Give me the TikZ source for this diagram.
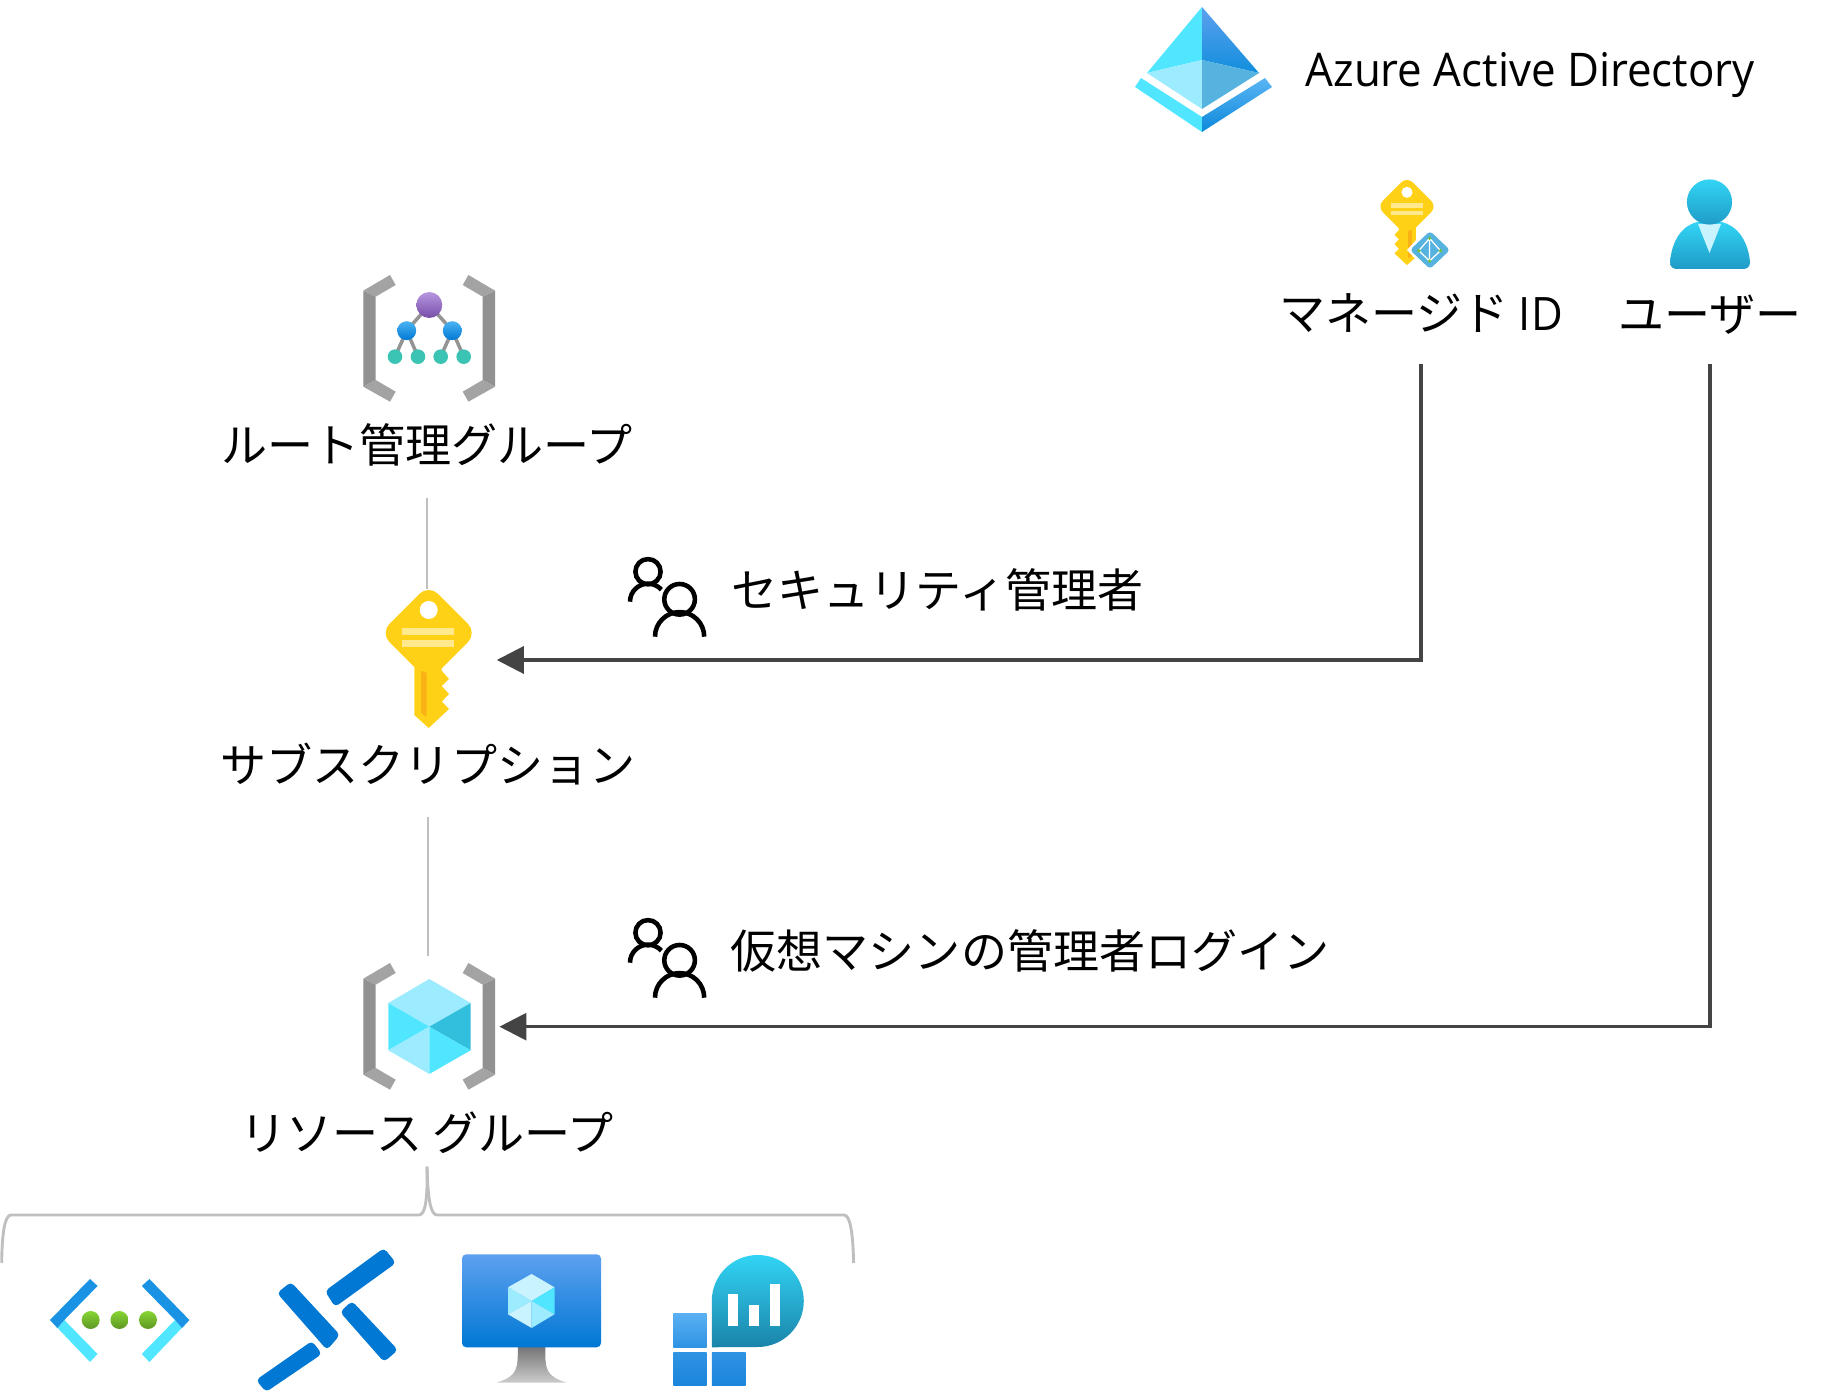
\documentclass[tikz,border=0pt]{standalone}
\usepackage{fontspec}
\setmainfont{Noto Sans CJK JP}
\newfontfamily\latinfont[FakeStretch=0.945]{Open Sans}
\usetikzlibrary{arrows.meta}

\definecolor{keyyellow}{HTML}{FFD116}
\definecolor{keybar}{HTML}{FFE98C}
\definecolor{keyedge}{HTML}{F9B116}
\definecolor{cubelight}{HTML}{9CEBFF}
\definecolor{cubemid}{HTML}{50E6FF}
\definecolor{cubedark}{HTML}{32BEDD}
\definecolor{azuretop}{HTML}{5EA0EF}
\definecolor{azurelow}{HTML}{0078D4}
\definecolor{usertop}{HTML}{32D4F5}
\definecolor{userlow}{HTML}{1F9BC7}
\definecolor{squarelight}{HTML}{5AB0F2}
\definecolor{squaremid}{HTML}{2F93E3}
\definecolor{squarelow}{HTML}{1A85DB}
\definecolor{paleblue}{HTML}{56B2DE}
\definecolor{darkline}{HTML}{444444}
\definecolor{greyline}{HTML}{BFBFBF}

\tikzset{
	labeltext/.style={inner sep=0pt,font=\fontsize{13.1pt}{15pt}\selectfont,text height=0.355cm,text depth=0pt},
	hook/.style={draw=greyline,line width=0.82pt},
	assign/.style={draw=darkline,line width=0.88pt,-{Triangle[length=0.27cm,width=0.27cm,color=darkline]}},
	person/.style={draw=black,line width=1.3pt}
}

% gray brackets of a group icon, #1 is the shift in y
\newcommand{\bracketicon}[1]{
	\foreach \s in {-1,1} {
		\begin{scope}[shift={(429.2,#1)},xscale=\s]
			\fill[fill=black!43] (-65.9,-47.6) -- (-53.5,-41.6) -- (-53.5,41.7) -- (-65.9,48.4) -- cycle;
			\fill[fill=black!36] (-39.2,-63.3) -- (-65.9,-47.6) -- (-53.5,-41.6) -- (-33.5,-53.3) -- cycle;
			\fill[fill=black!36] (-39.2,63.4) -- (-65.9,48.4) -- (-53.5,41.7) -- (-33.5,53.4) -- cycle;
		\end{scope}
	}
}

% key icon, top of the bow at #1
\newcommand{\keyicon}[4]{
	\begin{scope}[shift={(#1)},xscale=#2,yscale=#3]
		\fill[keyyellow,rounded corners=#4] (-48.4,43) -- (0,-5.4) -- (48.4,43) -- (0,91.4) -- cycle;
		\fill[keyyellow] (-14.4,70) -- (-14.4,125) -- (0,138) -- (20.3,119) -- (13,111.7) -- (20.3,104) -- (13,96) -- (20.3,89) -- (13,80.7) -- (13,70) -- cycle;
		\fill[keyedge] (-7.7,80.7) -- (-2,83) -- (-2,127) -- (-7.7,122.7) -- cycle;
		\fill[white] (0,20) circle (9);
		\fill[keybar] (-26.7,37.7) rectangle (25.3,45);
		\fill[keybar] (-26.7,50) rectangle (25.3,57.3);
	\end{scope}
}

% two people outline, #1 is the shift in y
\newcommand{\peopleicon}[1]{
	\begin{scope}[shift={(0,#1)}]
		\draw[person] (648,571.7) circle (12.6);
		\draw[person] (630,601.7) arc[start angle=180,end angle=318,radius=18];
		\draw[person] (679.6,599.3) circle (15.3);
		\draw[person] (655,636.7) arc[start angle=180,end angle=360,radius=24.6];
	\end{scope}
}

\begin{document}
\begin{tikzpicture}[x=0.01cm,y=-0.01cm]
	\useasboundingbox (0,0) rectangle (1835,1392);

	% Azure AD
	\fill[cubemid] (1202,7) -- (1147,73) -- (1202,60) -- cycle;
	\shade[top color=azuretop,bottom color=azurelow!80!cubemid] (1202,7) -- (1259,73) -- (1202,60) -- cycle;
	\fill[cubelight] (1147,73) -- (1202,60) -- (1202,109) -- cycle;
	\fill[paleblue] (1259,73) -- (1202,60) -- (1202,109) -- cycle;
	\fill[cubemid] (1141,78) -- (1135,87) -- (1202,132) -- (1202,117) -- cycle;
	\shade[top color=azuretop!70!cubemid,bottom color=azurelow!85!cubemid] (1265,78) -- (1272,87) -- (1202,132) -- (1202,117) -- cycle;
	\node[labeltext,anchor=west,font=\latinfont\fontsize{13.2pt}{15pt}\selectfont] (adlabel) at (1305,69) {Azure Active Directory};

	% managed identity
	\keyicon{1407,180}{-0.617}{0.617}{2.3pt}
	\fill[white] (1407,250) -- (1430,225) -- (1453,250) -- (1430,275) -- cycle;
	\fill[paleblue,rounded corners=1pt] (1410,250) -- (1430,231) -- (1450,250) -- (1430,269) -- cycle;
	\draw[white,line width=0.35pt] (1429.6,238.3) -- (1418.8,250.7) -- (1429.6,261) -- (1440.4,250.7) -- cycle (1429.6,238.3) -- (1429.6,261);
	\foreach \p in {{1429.6,238.3},{1418.8,250.7},{1429.6,261},{1440.4,250.7}}
		\fill[fill=green!60!yellow!70!black!80] (\p) circle (1.8);
	\node[labeltext,minimum height=1.01cm] (mgdlabel) at (1421,312.5) {マネージド {\latinfont ID}};

	% user
	\shade[top color=usertop,bottom color=userlow] (1670,262) .. controls (1672,240) and (1682,226) .. (1697,222) -- (1722,222) .. controls (1737,226) and (1748,240) .. (1750,262) .. controls (1750,267) and (1747,269) .. (1743,269) -- (1677,269) .. controls (1673,269) and (1670,267) .. (1670,262) -- cycle;
	\fill[fill=cubelight!55!white] (1698,224) -- (1721,224) -- (1709.5,253) -- cycle;
	\shade[top color=usertop,bottom color=userlow] (1709.5,202) circle (22.6);
	\node[labeltext,minimum height=0.98cm] (userlabel) at (1710,314) {ユーザー};

	% root management group
	\bracketicon{338.3}
	\draw[black!42,line width=1pt] (429.3,305) -- (406.7,330.7) -- (395,356.7) (406.7,330.7) -- (418,356.7);
	\draw[black!42,line width=1pt] (429.3,305) -- (452.3,330.7) -- (440.7,356.7) (452.3,330.7) -- (463.7,356.7);
	\shade[top color={rgb,255:red,184;green,150;blue,224},bottom color={rgb,255:red,118;green,78;blue,168}] (429.3,305) circle (13);
	\foreach \x in {406.7,452.3}
		\shade[top color=azuretop!80!cyan,bottom color=azurelow] (\x,330.7) circle (9.5);
	\foreach \x in {395,418,440.7,463.7}
		\fill[fill={rgb,255:red,59;green,196;blue,179}] (\x,356.7) circle (7.3);
	\node[labeltext,minimum height=1.04cm] (rootlabel) at (427,445) {ルート管理グループ};

	% subscription
	\node[minimum width=1.346cm,minimum height=1.4cm,inner sep=0pt] (subkey) at (428.7,660) {};
	\keyicon{428.7,590}{1}{1}{3.7pt}
	\node[labeltext,minimum height=1.02cm] (sublabel) at (428,765) {サブスクリプション};

	% resource group
	\node[minimum width=1.39cm,minimum height=1.394cm,inner sep=0pt] (rgicon) at (429.2,1026.7) {};
	\bracketicon{1026.3}
	\fill[cubelight] (429.3,979) -- (388.3,1003) -- (429.3,1026.7) -- (470.7,1003) -- cycle;
	\fill[cubemid] (388.3,1003) -- (429.3,1026.7) -- (388.3,1050.3) -- cycle;
	\fill[cubedark] (470.7,1003) -- (429.3,1026.7) -- (470.7,1050.3) -- cycle;
	\fill[cubelight] (388.3,1050.3) -- (429.3,1026.7) -- (429.3,1074) -- cycle;
	\fill[cubemid] (470.7,1050.3) -- (429.3,1026.7) -- (429.3,1074) -- cycle;
	\node[labeltext,minimum height=0.66cm] (rglabel) at (427,1133) {リソース グループ};

	% roles
	\peopleicon{0}
	\node[labeltext,anchor=west] (seclabel) at (731,590) {セキュリティ管理者};
	\peopleicon{361}
	\node[labeltext,anchor=west] (vmlabel) at (730,951) {仮想マシンの管理者ログイン};

	% connectors
	\draw[hook] (rootlabel.south) -- (rootlabel.south |- subkey.north);
	\draw[hook] (sublabel.south) -- (sublabel.south |- rgicon.north);
	\draw[assign] (mgdlabel.south) |- (subkey.east);
	\draw[assign] (userlabel.south) |- (rgicon.east);
	\coordinate (braceleft) at (1.7,1263);
	\coordinate (braceright) at (853.6,1263);
	\draw[hook] (rglabel.south) .. controls (427.7,1195) and (426,1215) .. (419,1215) -- (11,1215) .. controls (5,1215) and (2,1232) .. (braceleft);
	\draw[hook] (rglabel.south) .. controls (427.7,1195) and (430,1215) .. (437,1215) -- (844,1215) .. controls (850,1215) and (853,1232) .. (braceright);

	% virtual network
	\foreach \s in {-1,1} {
		\begin{scope}[shift={(119.7,0)},xscale=\s]
			\fill[cubemid] (-62.3,1328) -- (-69.7,1320) -- (-29.7,1362) -- (-22.1,1354) -- (-55.4,1320) -- cycle;
			\fill[fill={rgb,255:red,27;green,147;blue,228}] (-29.7,1279) -- (-22.1,1286) -- (-55.4,1320) -- (-62.3,1328) -- (-69.7,1320) -- cycle;
		\end{scope}
	}
	\foreach \x in {90.7,119.4,148}
		\shade[top color={rgb,255:red,134;green,214;blue,51},bottom color={rgb,255:red,94;green,150;blue,36}] (\x,1320) circle (9);

	% peering
	\fill[azurelow,rounded corners=1.2pt] (384,1248) -- (396,1263) -- (335,1307) -- (325,1291) -- cycle;
	\fill[azurelow,rounded corners=1.2pt] (291,1282) -- (277,1293) -- (327,1350) -- (340,1335) -- cycle;
	\fill[azurelow,rounded corners=1.2pt] (352,1301) -- (340,1312) -- (384,1362) -- (398,1350) -- cycle;
	\fill[azurelow,rounded corners=1.2pt] (312,1341) -- (322,1354) -- (266,1392) -- (256,1380) -- cycle;

	% virtual machine
	\shade[top color=black!54,bottom color=black!20] (517.8,1347) .. controls (518,1370) and (517,1376) .. (496.6,1382.7) -- (566.6,1382.7) .. controls (546,1376) and (545,1370) .. (545.3,1347) -- cycle;
	\shade[top color=azuretop,bottom color=azurelow,rounded corners=1.2pt] (462,1254.3) rectangle (601,1347.3);
	\fill[fill=cubelight!55!white] (531.6,1274) -- (508,1287.3) -- (531.6,1301) -- (554.5,1287.3) -- cycle;
	\fill[cubelight] (508,1287.3) -- (531.6,1301) -- (508,1314.3) -- cycle;
	\fill[cubemid] (554.5,1287.3) -- (531.6,1301) -- (554.5,1314.3) -- cycle;
	\fill[fill=cubelight!55!white] (508,1314.3) -- (531.6,1301) -- (531.6,1328) -- cycle;
	\fill[cubelight] (554.5,1314.3) -- (531.6,1301) -- (531.6,1328) -- cycle;

	% log analytics
	\shade[top color=squarelight,bottom color=squaremid] (673.4,1313.3) rectangle (706.7,1347.3);
	\shade[top color=squaremid,bottom color=squarelow] (673.4,1352.3) rectangle (706.7,1385.7);
	\shade[top color=squaremid,bottom color=squarelow] (711.8,1352.3) rectangle (745.7,1385.7);
	\shade[top color=usertop,bottom color=userlow!85!black] (711.8,1347.3) -- (711.8,1301) arc[start angle=180,end angle=450,radius=46] -- cycle;
	\fill[white] (728,1294.3) rectangle (738,1326);
	\fill[white] (748.6,1305) rectangle (759,1326);
	\fill[white] (769.8,1284) rectangle (780,1326);
\end{tikzpicture}
\end{document}
